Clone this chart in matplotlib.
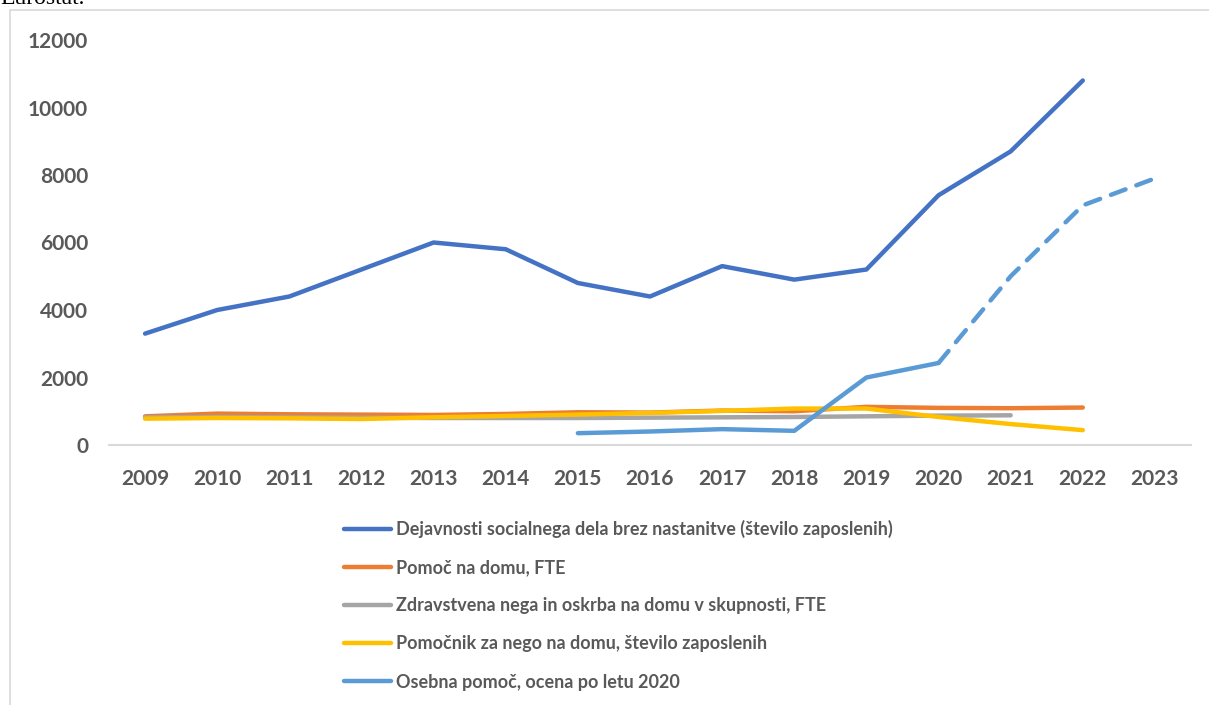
import numpy as np
import matplotlib
matplotlib.use("Agg")
import matplotlib.pyplot as plt
from matplotlib.lines import Line2D
from matplotlib.patches import Rectangle

plt.rcParams['font.family'] = ['Lato', 'DejaVu Sans']

years = [str(y) for y in range(2009, 2024)]

# število zaposlenih / FTE po letih (2009-2023), NaN = ni podatka
socialno_delo = [3300, 4000, 4400, 5200, 6000, 5800, 4800, 4400, 5300, 4900, 5200, 7400, 8700, 10800, np.nan]
pomoc_na_domu = [850, 930, 910, 900, 890, 920, 970, 960, 1020, 1000, 1130, 1100, 1090, 1110, np.nan]
zdravstvena_nega = [820, 830, 820, 810, 800, 800, 800, 810, 820, 830, 850, 870, 880, np.nan, np.nan]
pomocnik_za_nego = [780, 800, 790, 770, 820, 860, 900, 950, 1010, 1080, 1080, 830, 620, 440, np.nan]
osebna_pomoc = [np.nan, np.nan, np.nan, np.nan, np.nan, np.nan, 350, 400, 470, 420, 2000, 2430, 5000, 7100, 7900]
osebna_ocena_od = 2020

labels = [
    "Dejavnosti socialnega dela brez nastanitve (število zaposlenih)",
    "Pomoč na domu, FTE",
    "Zdravstvena nega in oskrba na domu v skupnosti, FTE",
    "Pomočnik za nego na domu, število zaposlenih",
    "Osebna pomoč, ocena po letu 2020",
]
colors = ["#4472C4", "#ED7D31", "#A5A5A5", "#FFC000", "#5B9BD5"]
text_color = "#595959"

fig = plt.figure(figsize=(12.09, 7.05), dpi=100)

# okvir grafa in delno odrezan vir nad njim
fig.patches.append(Rectangle((10 / 1209, -0.1), 1.2, 1 - 10 / 705 + 0.1,
                             transform=fig.transFigure, fill=False,
                             edgecolor="#D9D9D9", linewidth=1.2))
fig.text(0, 1 - 4 / 705, "Eurostat.", family="Liberation Serif", fontsize=17,
         color="black", va="baseline", ha="left")

ax = fig.add_axes([109 / 1209, 1 - 445 / 705, 1082 / 1209, 405 / 705])
x = np.arange(len(years))

lw = 3.2
series = [socialno_delo, pomoc_na_domu, zdravstvena_nega, pomocnik_za_nego]
for vals, c in zip(series, colors[:4]):
    ax.plot(x, vals, color=c, linewidth=lw, solid_capstyle="round", solid_joinstyle="round")

# osebna pomoč: izmerjeno do 2020, nato ocena (črtkano)
split = years.index(str(osebna_ocena_od))
op = np.array(osebna_pomoc, dtype=float)
ax.plot(x[:split + 1], op[:split + 1], color=colors[4], linewidth=lw,
        solid_capstyle="round", solid_joinstyle="round")
ax.plot(x[split:], op[split:], color=colors[4], linewidth=lw,
        linestyle=(0, (3.5, 2.6)), dash_capstyle="round")

ax.set_xlim(-0.5, len(years) - 0.5)
ax.set_ylim(0, 12000)
ax.set_yticks(range(0, 12001, 2000))
ax.set_xticks(x)
ax.set_xticklabels(years)

for s in ["top", "right", "left"]:
    ax.spines[s].set_visible(False)
ax.spines["bottom"].set_color("#D9D9D9")
ax.spines["bottom"].set_linewidth(1.5)
ax.tick_params(axis="both", length=0, labelsize=15, labelcolor=text_color)
ax.tick_params(axis="x", pad=17)
ax.tick_params(axis="y", pad=15)
for lab in ax.get_xticklabels() + ax.get_yticklabels():
    lab.set_fontweight("bold")

handles = [Line2D([0], [0], color=c, linewidth=lw, solid_capstyle="round") for c in colors]
leg = fig.legend(handles, labels, loc="upper left", bbox_to_anchor=(344 / 1209, 1 - 520 / 705),
                 frameon=False, fontsize=13, handlelength=2.6, handletextpad=0.3,
                 labelspacing=1.17, borderaxespad=0, borderpad=0)
for t in leg.get_texts():
    t.set_color(text_color)
    t.set_fontweight("bold")

fig.savefig("out.png", dpi=100)
